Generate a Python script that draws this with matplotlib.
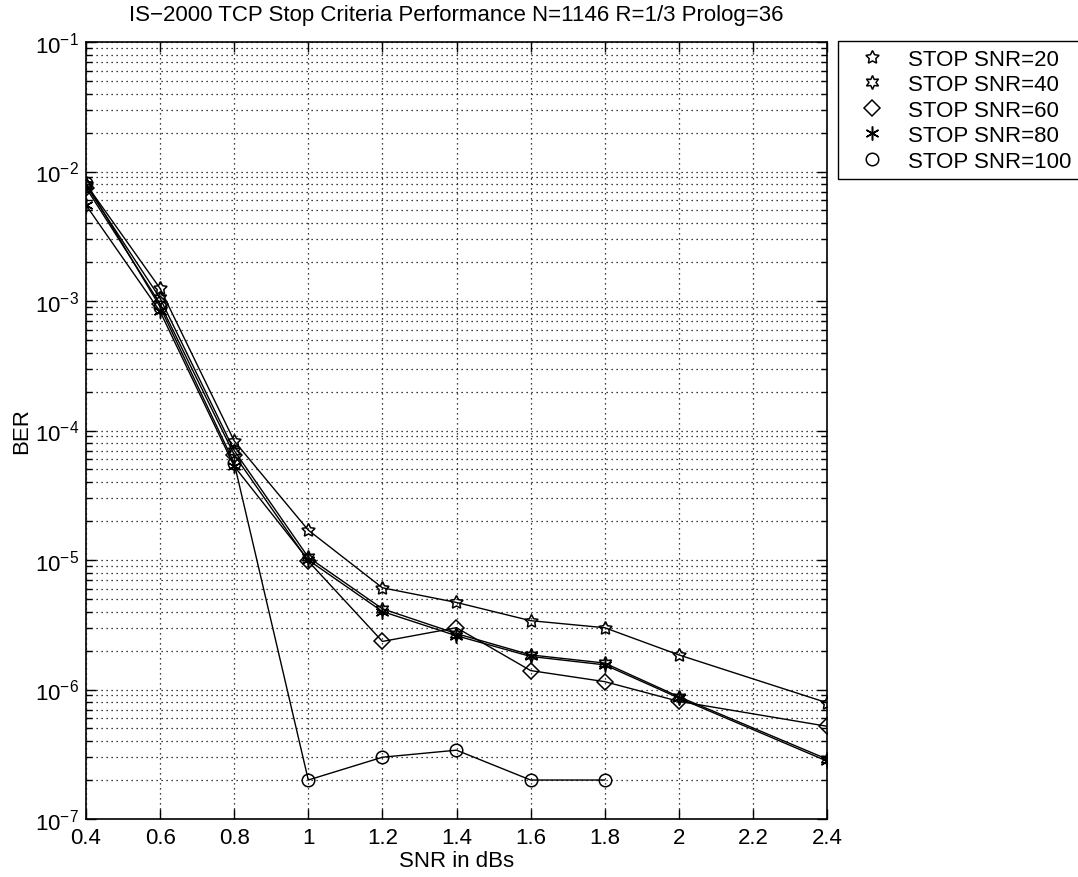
import numpy as np
import matplotlib.pyplot as plt
from matplotlib.lines import Line2D
from matplotlib.ticker import LogLocator, MultipleLocator, NullFormatter

plt.rcParams['font.family'] = ['Liberation Sans', 'DejaVu Sans']
plt.rcParams['mathtext.default'] = 'regular'
plt.rcParams['font.size'] = 16

snr_db = [0.4, 0.6, 0.8, 1.0, 1.2, 1.4, 1.6, 1.8, 2.0, 2.4]
snr_db_100 = [0.4, 0.6, 0.8, 1.0, 1.2, 1.4, 1.6, 1.8]

ber_stop20 = [8.0e-3, 1.25e-3, 8.3e-5, 1.7e-5, 6.1e-6, 4.7e-6, 3.4e-6, 3.0e-6, 1.85e-6, 7.9e-7]
ber_stop40 = [7.8e-3, 1.05e-3, 7.0e-5, 1.05e-5, 4.2e-6, 2.7e-6, 1.85e-6, 1.6e-6, 8.8e-7, 2.9e-7]
ber_stop60 = [7.5e-3, 9.5e-4, 6.5e-5, 9.8e-6, 2.35e-6, 3.0e-6, 1.4e-6, 1.15e-6, 8.1e-7, 5.2e-7]
ber_stop80 = [5.5e-3, 8.3e-4, 5.3e-5, 1.0e-5, 4.0e-6, 2.6e-6, 1.8e-6, 1.55e-6, 8.6e-7, 2.8e-7]
ber_stop100 = [8.2e-3, 9.0e-4, 5.6e-5, 2.0e-7, 3.0e-7, 3.4e-7, 2.0e-7, 2.0e-7]

labels = ['STOP SNR=20', 'STOP SNR=40', 'STOP SNR=60', 'STOP SNR=80', 'STOP SNR=100']
markers = [(5, 1, 0), (6, 1, 0), 'D', (6, 2, 0), 'o']
msizes = [10, 10, 8, 10, 9]

fig = plt.figure(figsize=(10.78, 8.78), dpi=100)
ax = fig.add_axes([86/1078, 1 - 820/878, (827-86)/1078, (820-43)/878])

series = [(snr_db, ber_stop20), (snr_db, ber_stop40), (snr_db, ber_stop60),
          (snr_db, ber_stop80), (snr_db_100, ber_stop100)]
for (x, y), m, ms in zip(series, markers, msizes):
    ax.plot(x, y, color='black', lw=1.0, marker=m, ms=ms, mfc='none', mec='black', mew=1.1)

ax.set_yscale('log')
ax.set_xlim(0.4, 2.4)
ax.set_ylim(1e-7, 1e-1)
ax.xaxis.set_major_locator(MultipleLocator(0.2))
ax.xaxis.set_major_formatter(plt.FuncFormatter(lambda v, p: ('%.1f' % v).rstrip('0').rstrip('.')))
ax.yaxis.set_major_locator(LogLocator(base=10, numticks=10))
ax.yaxis.set_minor_locator(LogLocator(base=10, subs=np.arange(2, 10), numticks=20))
ax.yaxis.set_minor_formatter(NullFormatter())

# dotted grid on every decade and sub-decade line
ax.grid(True, which='major', linestyle=(0, (1, 3)), color='black', lw=0.9)
ax.grid(True, which='minor', axis='y', linestyle=(0, (1, 3)), color='black', lw=0.9)
ax.tick_params(which='both', direction='in', top=True, right=True, width=1.0)
ax.tick_params(which='major', length=7, labelsize=16)
ax.tick_params(axis='x', which='major', pad=6)
ax.tick_params(axis='y', which='major', pad=5)
ax.tick_params(which='minor', length=4)
for s in ax.spines.values():
    s.set_linewidth(1.2)

ax.set_title('IS\u22122000 TCP Stop Criteria Performance N=1146 R=1/3 Prolog=36', fontsize=16, pad=16)
ax.set_xlabel('SNR in dBs', fontsize=16, labelpad=1)
ax.set_ylabel('BER', fontsize=16, labelpad=2)

handles = [Line2D([], [], color='black', ls='none', marker=m, ms=ms, mfc='none', mew=1.1)
           for m, ms in zip(markers, msizes)]
leg = fig.legend(handles, labels, loc='upper left', bbox_to_anchor=(838/1078, 1 - 42/878),
                 fontsize=16, frameon=True, fancybox=False, framealpha=1, edgecolor='black',
                 handlelength=2.4, handletextpad=0.4, borderpad=0.35, labelspacing=0.2,
                 borderaxespad=0)
leg.get_frame().set_linewidth(1.0)

fig.savefig('out.png', dpi=100)
